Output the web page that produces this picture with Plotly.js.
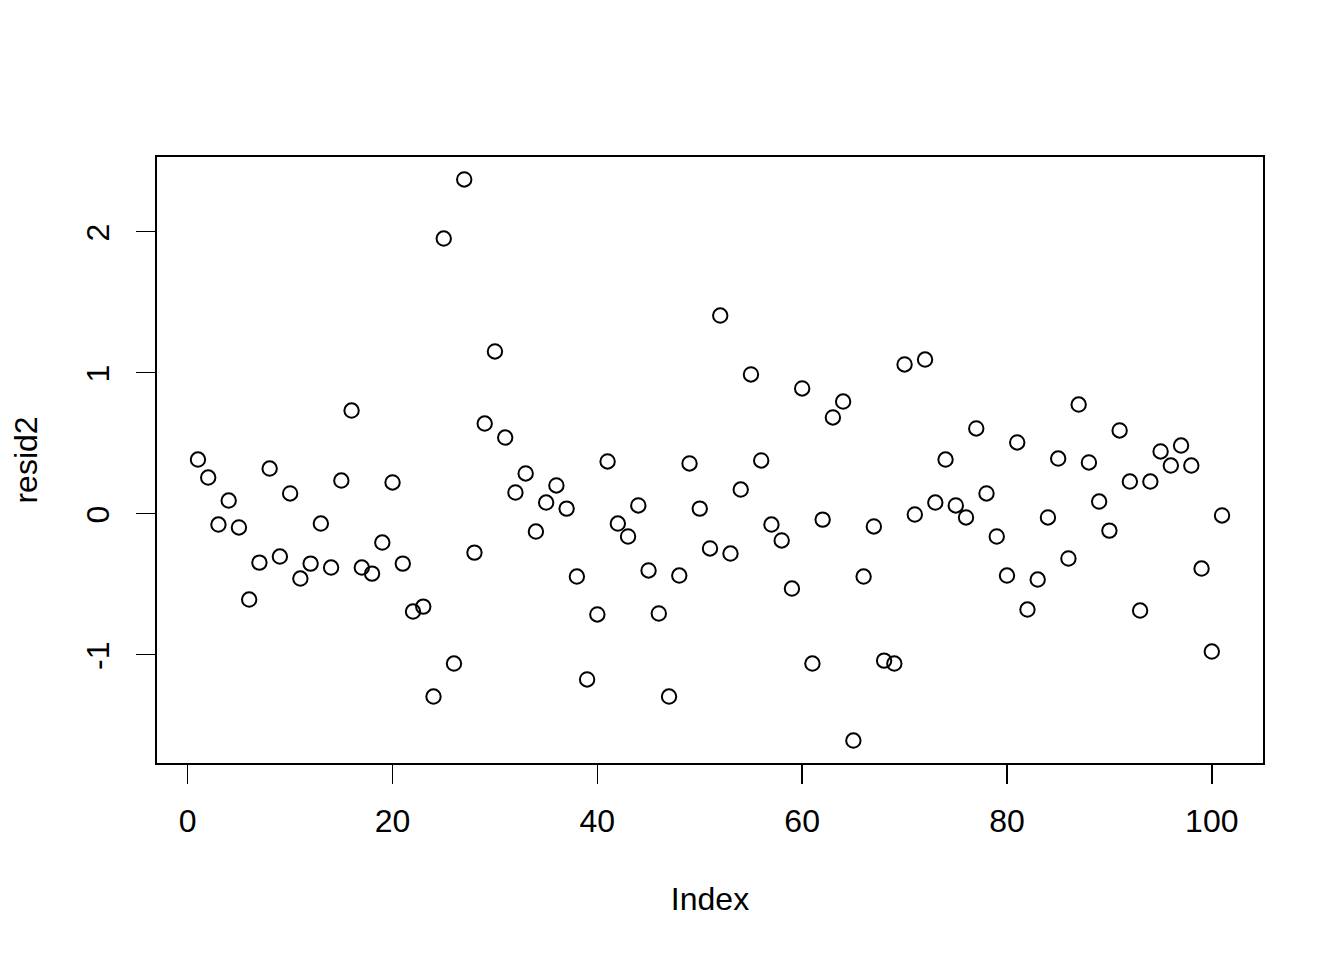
<!DOCTYPE html>
<html>
<head>
<meta charset="utf-8">
<script src="https://cdn.plot.ly/plotly-3.0.1.min.js"></script>
<style>html,body{margin:0;padding:0;background:#fff;}#chart{width:1344px;height:960px;}</style>
</head>
<body>
<div id="chart"></div>
<script>
const resid2 = [
  0.383, 0.255, -0.078, 0.092, -0.099, -0.610, -0.348, 0.319, -0.305, 0.142,
  -0.461, -0.355, -0.071, -0.383, 0.234, 0.730, -0.383, -0.426, -0.206, 0.220,
  -0.355, -0.695, -0.660, -1.298, 1.950, -1.064, 2.369, -0.277, 0.638, 1.149,
  0.539, 0.149, 0.284, -0.128, 0.078, 0.199, 0.035, -0.447, -1.177, -0.716,
  0.369, -0.071, -0.163, 0.057, -0.404, -0.709, -1.298, -0.440, 0.355, 0.035,
  -0.248, 1.404, -0.284, 0.170, 0.986, 0.376, -0.078, -0.191, -0.532, 0.887,
  -1.064, -0.043, 0.681, 0.794, -1.610, -0.447, -0.092, -1.043, -1.064, 1.057,
  -0.007, 1.092, 0.078, 0.383, 0.057, -0.028, 0.603, 0.142, -0.163, -0.440,
  0.504, -0.681, -0.468, -0.028, 0.390, -0.319, 0.773, 0.362, 0.085, -0.121,
  0.589, 0.227, -0.688, 0.227, 0.440, 0.340, 0.482, 0.340, -0.390, -0.979,
  -0.014
];
const index = resid2.map((_, i) => i + 1);
const xTicks = [0, 20, 40, 60, 80, 100];
const yTicks = [-1, 0, 1, 2];
const xTitle = "Index";
const yTitle = "resid2";

// R-style 4% range extension
function rRange(arr) {
  const lo = Math.min(...arr), hi = Math.max(...arr);
  const d = (hi - lo) * 0.04;
  return [lo - d, hi + d];
}

const font = {family: "Liberation Sans, Arial, Helvetica, sans-serif", size: 32, color: "#000"};

const trace = {
  x: index,
  y: resid2,
  type: "scatter",
  mode: "markers",
  marker: {symbol: "circle-open", size: 14.4, color: "#000", line: {width: 2, color: "#000"}},
  hoverinfo: "x+y"
};

const layout = {
  width: 1344,
  height: 960,
  margin: {l: 157, r: 81, t: 157, b: 197, pad: 0},
  paper_bgcolor: "#fff",
  plot_bgcolor: "#fff",
  font: font,
  showlegend: false,
  xaxis: {
    range: rRange(index),
    tickvals: xTicks,
    ticktext: xTicks.map(String),
    ticks: "outside",
    ticklen: 19,
    tickwidth: 1.5,
    tickcolor: "#000",
    ticklabelstandoff: 10,
    showline: true,
    mirror: true,
    linecolor: "#000",
    linewidth: 2,
    showgrid: false,
    zeroline: false,
    tickfont: font,
    automargin: false,
    title: {text: xTitle, font: font, standoff: 49}
  },
  yaxis: {
    range: rRange(resid2),
    tickvals: yTicks,
    ticktext: yTicks.map(String),
    tickangle: -90,
    ticks: "outside",
    ticklen: 19,
    tickwidth: 1.5,
    tickcolor: "#000",
    ticklabelstandoff: 14,
    ticklabelshift: 6,
    showline: true,
    mirror: true,
    linecolor: "#000",
    linewidth: 2,
    showgrid: false,
    zeroline: false,
    tickfont: font,
    automargin: false,
    title: {text: yTitle, font: font, standoff: 33}
  }
};

Plotly.newPlot("chart", [trace], layout, {displayModeBar: false, staticPlot: true});
</script>
</body>
</html>
